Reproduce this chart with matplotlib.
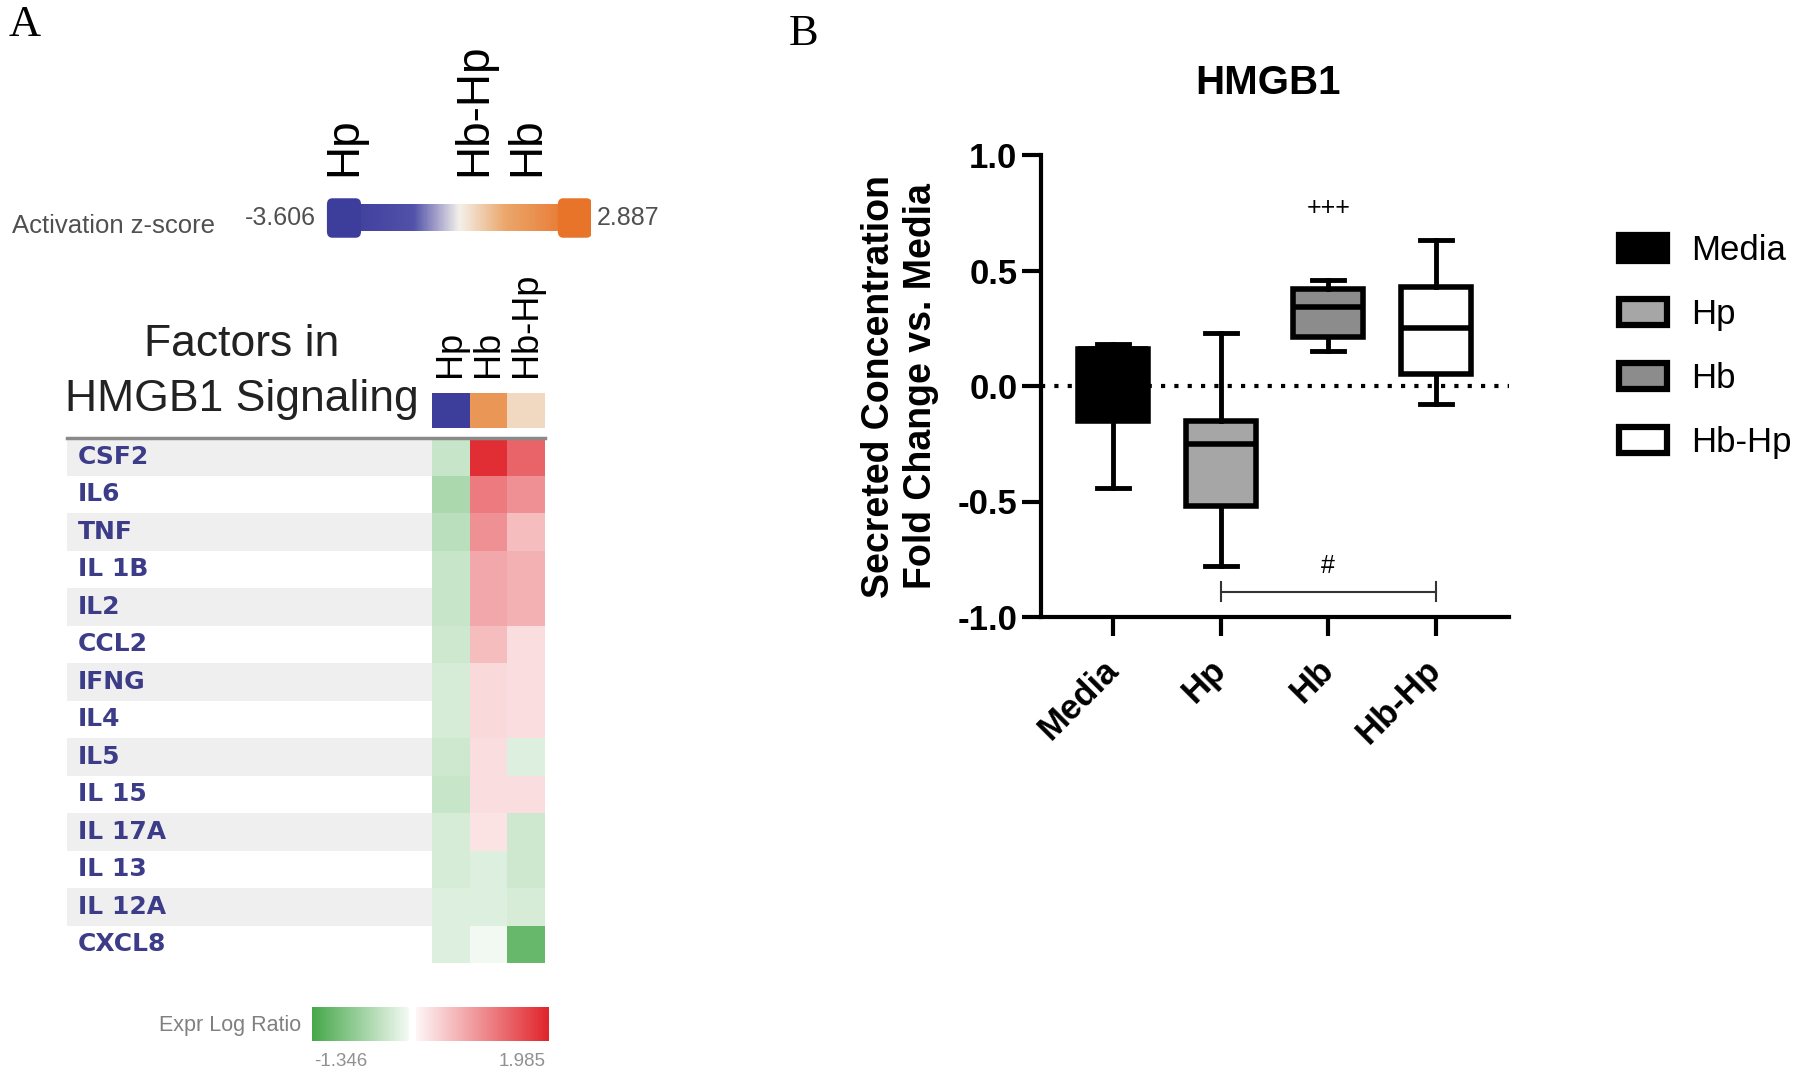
import numpy as np
import matplotlib
matplotlib.use('Agg')
import matplotlib.pyplot as plt
from matplotlib.colors import LinearSegmentedColormap, TwoSlopeNorm, Normalize
from matplotlib.patches import Patch, FancyBboxPatch

plt.rcParams['font.family'] = ['Liberation Sans', 'DejaVu Sans']

# ---- panel A data: IPA comparison ----
conds = ['Hp', 'Hb', 'Hb-Hp']
z_scores = [-3.606, 1.56, 0.05]
z_min, z_max = -3.606, 2.887

genes = ['CSF2', 'IL6', 'TNF', 'IL 1B', 'IL2', 'CCL2', 'IFNG', 'IL4', 'IL5',
         'IL 15', 'IL 17A', 'IL 13', 'IL 12A', 'CXCL8']
expr_hp = [-0.40, -0.60, -0.50, -0.40, -0.40, -0.35, -0.30, -0.30, -0.35,
           -0.40, -0.30, -0.30, -0.25, -0.25]
expr_hb = [1.90, 1.20, 1.00, 0.80, 0.80, 0.60, 0.35, 0.35, 0.30,
           0.30, 0.25, -0.25, -0.25, -0.10]
expr_hbhp = [1.40, 1.00, 0.60, 0.70, 0.70, 0.30, 0.30, 0.30, -0.25,
             0.30, -0.35, -0.35, -0.30, -1.10]
expr_min, expr_max = -1.346, 1.985

# ---- panel B data: HMGB1 box plot ----
groups = ['Media', 'Hp', 'Hb', 'Hb-Hp']
whis_lo = [-0.44, -0.78, 0.15, -0.08]
q1 = [-0.15, -0.52, 0.21, 0.05]
med = [0.16, -0.25, 0.34, 0.25]
q3 = [0.16, -0.15, 0.42, 0.43]
whis_hi = [0.18, 0.23, 0.46, 0.63]
fills = ['black', '#a6a6a6', '#8c8c8c', 'white']
yticks = [-1.0, -0.5, 0.0, 0.5, 1.0]
ytick_labels = ['-1.0', '-0.5', '0.0', '0.5', '1.0']

W, H = 1800, 1084
fig = plt.figure(figsize=(18, 10.84), dpi=100)


def px_axes(x0, y0, x1, y1):
    return fig.add_axes([x0 / W, 1 - y1 / H, (x1 - x0) / W, (y1 - y0) / H])


bg = px_axes(0, 0, W, H)
bg.set_xlim(0, W)
bg.set_ylim(H, 0)
bg.axis('off')

zcmap = LinearSegmentedColormap.from_list('z', [(0, '#3d3d9c'), (0.3, '#5252aa'), (0.5, '#f4f0ea'),
                                                (0.7, '#eba76c'), (1, '#e8742a')])
znorm = Normalize(z_min, z_max)
ecmap = LinearSegmentedColormap.from_list('e', [(0, '#46a84a'), (0.5, '#ffffff'), (1, '#e0252c')])
enorm = TwoSlopeNorm(vmin=expr_min, vcenter=0, vmax=expr_max)

# activation z-score bar
ax_z = px_axes(325, 197, 591, 239)
ax_z.imshow(np.linspace(z_min, z_max, 300)[None, :], extent=[z_min, z_max, 0.18, 0.82],
            cmap=zcmap, norm=znorm, aspect='auto')
for zz in [z_min, z_max]:
    ax_z.add_patch(FancyBboxPatch((zz - 0.48, 0.03), 0.96, 0.94,
                                  boxstyle='round,pad=0,rounding_size=0.15',
                                  fc=zcmap(znorm(zz)), ec='none'))
for c, z in zip(conds, z_scores):
    ax_z.text(z, 1.5, c, rotation=90, ha='center', va='bottom', fontsize=33, clip_on=False)
ax_z.set_xlim(-4.14, 3.34)
ax_z.set_ylim(0, 1)
ax_z.axis('off')
bg.text(12, 226, 'Activation z-score', fontsize=18.5, color='#505050', va='center')
bg.text(316, 218, '%.3f' % z_min, fontsize=18, color='#505050', va='center', ha='right')
bg.text(597, 218, '%.3f' % z_max, fontsize=18, color='#505050', va='center', ha='left')

# header
bg.text(242, 344, 'Factors in', fontsize=32, ha='center', va='center', color='#222222')
bg.text(242, 400, 'HMGB1 Signaling', fontsize=32, ha='center', va='center', color='#222222')
ax_hd = px_axes(432, 393, 545, 428)
ax_hd.imshow(np.array(z_scores)[None, :], cmap=zcmap, norm=znorm, aspect='auto')
for j, c in enumerate(conds):
    ax_hd.text(j, -0.95, c, rotation=90, ha='center', va='bottom', fontsize=26, clip_on=False)
ax_hd.axis('off')

# heatmap
ax_h = px_axes(67, 438, 545, 963)
expr = np.column_stack([expr_hp, expr_hb, expr_hbhp])
n = len(genes)
for i in range(0, n, 2):
    ax_h.barh(i + 0.5, 9.69, left=-9.69, height=1, color='#efefef', lw=0)
ax_h.pcolormesh(np.arange(4), np.arange(n + 1), expr, cmap=ecmap, norm=enorm)
for i, g in enumerate(genes):
    ax_h.text(-9.4, i + 0.5, g, va='center', ha='left', fontsize=18, color='#3c3c88',
              family='DejaVu Sans', fontweight='bold')
ax_h.axhline(0, color='#8a8a8a', lw=2.5, clip_on=False)
ax_h.set_xlim(-9.69, 3)
ax_h.set_ylim(n, 0)
ax_h.axis('off')

# expression legend
ax_l1 = px_axes(312, 1007, 408, 1041)
ax_l1.imshow(np.linspace(expr_min, -0.08, 200)[None, :], cmap=ecmap, norm=enorm, aspect='auto')
ax_l1.axis('off')
ax_l2 = px_axes(416, 1007, 549, 1041)
ax_l2.imshow(np.linspace(0.08, expr_max, 200)[None, :], cmap=ecmap, norm=enorm, aspect='auto')
ax_l2.axis('off')
bg.text(301, 1025, 'Expr Log Ratio', fontsize=15.5, color='#808080', ha='right', va='center')
bg.text(341, 1062, '%.3f' % expr_min, fontsize=13.5, color='#909090', ha='center', va='center')
bg.text(522, 1062, '%.3f' % expr_max, fontsize=13.5, color='#909090', ha='center', va='center')

# ---- panel B ----
axb = px_axes(1041, 155, 1509, 617)
stats = [dict(whislo=a, q1=b, med=c, q3=d, whishi=e, fliers=[])
         for a, b, c, d, e in zip(whis_lo, q1, med, q3, whis_hi)]
bp = axb.bxp(stats, positions=range(len(groups)), widths=0.65, capwidths=0.3,
             patch_artist=True, showfliers=False,
             boxprops=dict(lw=4, edgecolor='black'),
             whiskerprops=dict(lw=3.5, color='black'),
             capprops=dict(lw=3.5, color='black'),
             medianprops=dict(lw=4, color='black'))
for patch, c in zip(bp['boxes'], fills):
    patch.set_facecolor(c)
axb.axhline(0, color='black', lw=3, ls=(0, (1, 2.2)), zorder=0.5)

axb.set_xlim(-0.67, 3.68)
axb.set_ylim(-1, 1)
axb.spines['top'].set_visible(False)
axb.spines['right'].set_visible(False)
axb.spines['left'].set_linewidth(3)
axb.spines['bottom'].set_linewidth(3)
axb.tick_params(length=14, width=3, pad=3)
axb.set_yticks(yticks)
axb.set_yticklabels(ytick_labels, fontsize=25, fontweight='bold')
axb.set_xticks(range(len(groups)))
axb.set_xticklabels(groups, fontsize=25, fontweight='bold', rotation=45, ha='right',
                    va='center', rotation_mode='anchor')
axb.tick_params(axis='x', pad=20)
axb.set_ylabel('Secreted Concentration\nFold Change vs. Media', fontsize=27, fontweight='bold')
axb.yaxis.set_label_coords(-0.218, 0.5)

# significance marks
axb.text(2, 0.77, '+++', ha='center', va='center', fontsize=18)
axb.text(2, -0.78, '#', ha='center', va='center', fontsize=18)
axb.plot([1, 3], [-0.89, -0.89], color='#333333', lw=1.5)
for xx in [1, 3]:
    axb.plot([xx, xx], [-0.85, -0.93], color='#333333', lw=1.5)

handles = [Patch(facecolor=c, edgecolor='black', lw=4.5, label=g) for g, c in zip(groups, fills)]
axb.legend(handles=handles, loc='upper left', bbox_to_anchor=(1619 / W, 1 - 234 / H),
           bbox_transform=fig.transFigure, frameon=False, fontsize=25,
           handlelength=1.37, handleheight=0.77, handletextpad=0.7,
           labelspacing=0.89, borderpad=0, borderaxespad=0)

bg.text(1268, 83, 'HMGB1', fontsize=29, fontweight='bold', ha='center', va='center')

bg.text(25, 25, 'A', family='Liberation Serif', fontsize=32, ha='center', va='center')
bg.text(804, 34, 'B', family='Liberation Serif', fontsize=32, ha='center', va='center')

fig.savefig('out.png', dpi=100)
